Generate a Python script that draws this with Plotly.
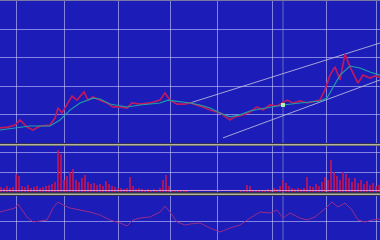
import plotly.graph_objects as go

# ---------------- data ----------------
price_x = [0, 8, 15, 20, 27, 33, 40, 50, 55, 58, 62, 67, 72, 77, 84, 88, 93, 100, 107, 113,
           120, 127, 132, 140, 150, 160, 165, 170, 177, 185, 190, 200, 210, 220, 230, 235,
           243, 250, 257, 263, 270, 277, 287, 293, 300, 307, 315, 320, 325, 330, 335, 340,
           345, 350, 358, 363, 370, 375, 380]
price = [10.53, 10.56, 10.63, 10.81, 10.56, 10.46, 10.60, 10.63, 10.88, 11.23, 11.06, 11.34,
         11.65, 11.51, 11.80, 11.51, 11.62, 11.51, 11.41, 11.27, 11.27, 11.23, 11.41, 11.37,
         11.41, 11.51, 11.76, 11.51, 11.37, 11.37, 11.41, 11.30, 11.16, 11.06, 10.81, 10.92,
         10.99, 11.09, 11.27, 11.16, 11.34, 11.30, 11.51, 11.41, 11.48, 11.41, 11.48, 11.51,
         11.87, 12.39, 12.68, 12.22, 13.13, 12.68, 12.11, 12.39, 12.29, 12.36, 12.32]

ma_x = [0, 15, 30, 50, 60, 70, 80, 93, 100, 110, 127, 140, 160, 168, 175, 190, 200, 210,
        220, 230, 240, 250, 260, 270, 283, 300, 320, 327, 333, 340, 350, 360, 370, 380]
ma = [10.46, 10.53, 10.60, 10.60, 10.81, 11.16, 11.41, 11.58, 11.55, 11.37, 11.27, 11.34,
      11.41, 11.51, 11.48, 11.41, 11.34, 11.23, 11.06, 10.92, 10.99, 11.13, 11.20, 11.27,
      11.34, 11.41, 11.48, 11.58, 11.94, 12.39, 12.71, 12.64, 12.50, 12.39]

upper_x = [190, 380]
upper = [11.41, 13.52]
lower_x = [223, 380]
lower = [10.18, 12.22]

cursor_x = 283
cursor_price = 11.34

vol_x = [1 + 3 * i for i in range(127)]
volume = [0.25, 0.2, 0.3, 0.2, 0.25, 0.9, 0.8, 0.3, 0.25, 0.35, 0.2, 0.25, 0.3, 0.2, 0.25,
          0.3, 0.35, 0.4, 0.5, 2.1, 1.9, 0.6, 0.8, 1.0, 1.15, 0.6, 0.5, 0.7, 0.85, 0.5,
          0.4, 0.45, 0.35, 0.4, 0.3, 0.55, 0.4, 0.3, 0.25, 0.2, 0.2, 0.15, 0.2, 0.75, 0.3,
          0.15, 0.2, 0.15, 0.1, 0.15, 0.1, 0.15, 0.1, 0.2, 0.6, 0.85, 0.3, 0.1, 0.1, 0.1,
          0.1, 0.05, 0.05, 0, 0, 0, 0, 0, 0, 0, 0, 0, 0, 0, 0, 0, 0, 0, 0,
          0, 0.05, 0.1, 0.35, 0.3, 0.1, 0.05, 0.1, 0.05, 0.1, 0.15, 0.1, 0.2, 0.15, 0.3,
          0.6, 0.45, 0.3, 0.2, 0.15, 0.2, 0.15, 0.2, 0.75, 0.3, 0.25, 0.4, 0.3, 0.5, 0.75,
          0.6, 1.6, 1.0, 0.8, 0.6, 1.0, 0.9, 0.7, 0.5, 0.7, 0.45, 0.6, 0.4, 0.55, 0.35,
          0.45, 0.3, 0.35]

osc_x = [0, 15, 18, 27, 33, 40, 47, 53, 58, 63, 70, 80, 90, 100, 110, 120, 127, 133, 140,
         150, 160, 165, 170, 177, 185, 190, 200, 210, 220, 230, 240, 250, 260, 270, 277,
         283, 290, 300, 307, 315, 320, 327, 332, 338, 345, 352, 358, 365, 372, 380]
osc = [0.45, 0.65, 0.85, 0.2, -0.05, 0, 0.05, 0.65, 0.95, 0.8, 0.65, 0.55, 0.45, 0.3, 0.05,
       -0.1, -0.25, 0.05, 0.15, 0.2, 0.45, 0.75, 0.45, -0.05, -0.2, -0.15, -0.1, -0.35,
       -0.55, -0.35, -0.2, 0.15, 0.45, 0.4, 0.55, 0.15, 0.4, 0.15, 0.05, 0.2, 0.4, 0.7,
       0.95, 0.7, 0.9, 0.55, 0.05, -0.05, 0.05, 0.1]

grid_x = [16, 64, 118, 170, 217, 272, 326, 376]

# ---------------- style ----------------
BG = "#1c1cb8"
GRID = "rgba(200,200,255,0.6)"
SEP = "#b4b4a0"

fig = go.Figure()
fig.add_trace(go.Scatter(x=upper_x, y=upper, mode="lines",
                         line=dict(color="rgba(200,200,225,0.8)", width=1), xaxis="x", yaxis="y"))
fig.add_trace(go.Scatter(x=lower_x, y=lower, mode="lines",
                         line=dict(color="rgba(200,200,225,0.8)", width=1), xaxis="x", yaxis="y"))
fig.add_trace(go.Scatter(x=price_x, y=price, mode="lines",
                         line=dict(color="#c01860", width=1.7), xaxis="x", yaxis="y"))
fig.add_trace(go.Scatter(x=ma_x, y=ma, mode="lines",
                         line=dict(color="#1ea0a8", width=1.1), xaxis="x", yaxis="y"))
fig.add_trace(go.Scatter(x=[cursor_x], y=[cursor_price], mode="markers",
                         marker=dict(color="#b0f0b0", size=4, symbol="square"), xaxis="x", yaxis="y"))
fig.add_trace(go.Bar(x=vol_x, y=volume, width=1.3,
                     marker=dict(color="rgba(205,20,80,0.8)", line=dict(width=0)),
                     xaxis="x2", yaxis="y2"))
fig.add_trace(go.Scatter(x=osc_x, y=osc, mode="lines",
                         line=dict(color="#9a2a88", width=1), xaxis="x3", yaxis="y3"))

ax = dict(range=[0, 380], tickvals=grid_x, showticklabels=False, showgrid=True,
          gridcolor=GRID, gridwidth=1, zeroline=False, showline=False, ticks="")
ay = dict(showticklabels=False, showgrid=True, gridcolor=GRID, gridwidth=1,
          zeroline=False, showline=False, ticks="")

shapes = [
    dict(type="line", xref="paper", yref="paper", x0=0, x1=1, y0=1 - 0.5 / 240, y1=1 - 0.5 / 240,
         line=dict(color="#7878a0", width=1)),
    dict(type="line", xref="paper", yref="paper", x0=0, x1=1, y0=1 - 143.5 / 240, y1=1 - 143.5 / 240,
         line=dict(color="#303050", width=1)),
    dict(type="line", xref="paper", yref="paper", x0=0, x1=1, y0=1 - 144.8 / 240, y1=1 - 144.8 / 240,
         line=dict(color=SEP, width=1.5)),
    dict(type="line", xref="paper", yref="paper", x0=0, x1=1, y0=1 - 194.2 / 240, y1=1 - 194.2 / 240,
         line=dict(color=SEP, width=1.5)),
    dict(type="line", xref="paper", yref="paper", x0=0, x1=1, y0=1 - 195.5 / 240, y1=1 - 195.5 / 240,
         line=dict(color="#303050", width=1)),
    dict(type="line", xref="x2", yref="paper", x0=0, x1=380, y0=1 - 190.5 / 240, y1=1 - 190.5 / 240,
         line=dict(color="#d890c8", width=1)),
    dict(type="line", xref="x", yref="paper", x0=cursor_x, x1=cursor_x, y0=0, y1=1,
         line=dict(color="rgba(170,170,200,0.55)", width=1), layer="below"),
]

fig.update_layout(
    width=380, height=240, margin=dict(l=0, r=0, t=0, b=0),
    paper_bgcolor="#30304a", plot_bgcolor=BG, showlegend=False, bargap=0,
    xaxis=dict(ax, anchor="y"),
    xaxis2=dict(ax, anchor="y2", matches="x"),
    xaxis3=dict(ax, anchor="y3", matches="x"),
    yaxis=dict(ay, domain=[1 - 143 / 240, 1 - 1 / 240], range=[10, 15], dtick=1, tick0=10),
    yaxis2=dict(ay, domain=[1 - 192 / 240, 1 - 146 / 240], range=[0, 2.3], dtick=1, tick0=0),
    yaxis3=dict(ay, domain=[0, 1 - 196 / 240], range=[-0.95, 1.25], tickvals=[0]),
    shapes=shapes,
)

fig.write_html("out.html")
